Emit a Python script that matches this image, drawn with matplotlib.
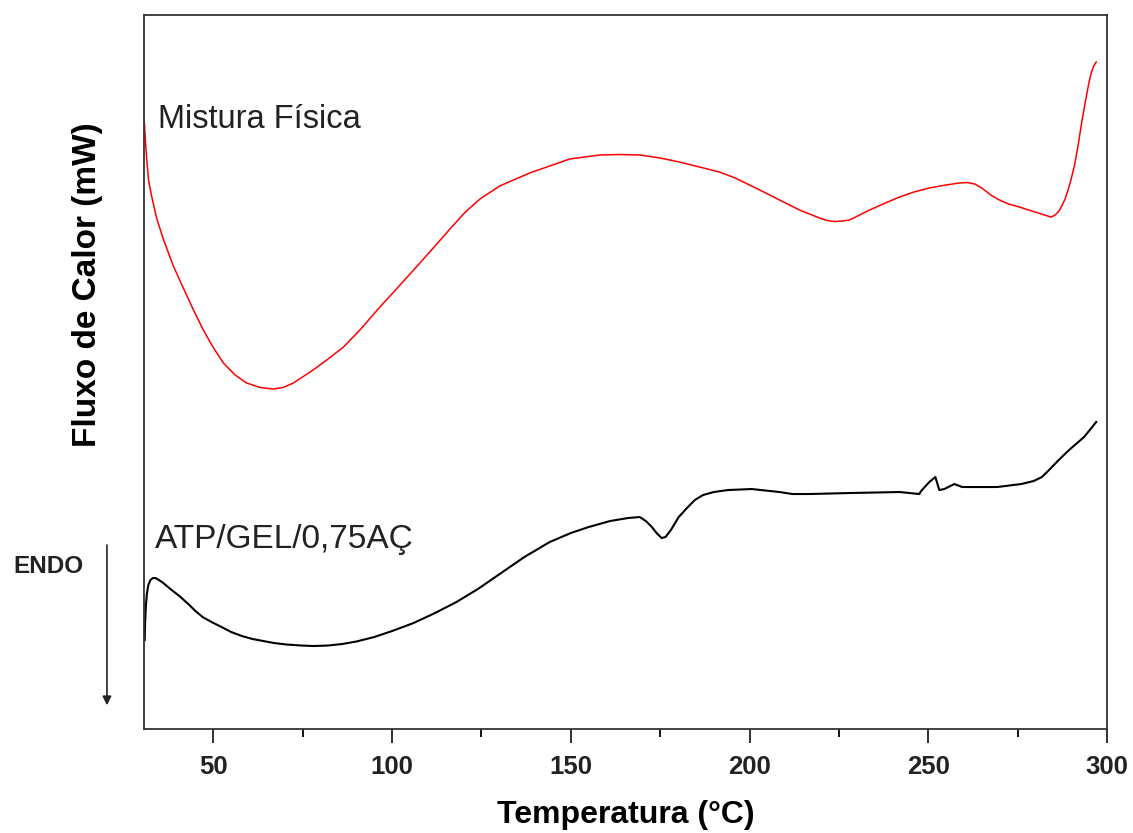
import matplotlib
matplotlib.use("Agg")
import matplotlib.pyplot as plt
from matplotlib.ticker import MultipleLocator

plt.rcParams['font.family'] = ['Liberation Sans', 'DejaVu Sans']

# Mistura Fisica (red curve), temperature in C, heat flow in arbitrary mW units
red_temp = [30.7, 31.0, 31.4, 31.9, 32.9, 34.2, 36.0, 38.8, 41.6, 44.3, 47.2,
            49.9, 52.8, 56.1, 59.3, 63.1, 66.8, 69.5, 72.4, 77.9, 82.1,
            86.4, 91.0, 96.6, 100.2, 107.8, 116.2, 120.5, 124.6, 130.1, 138.5,
            149.7, 158.1, 163.7, 169.3, 175.0, 180.4, 186.0, 191.6, 196.0, 200.0,
            204.0, 208.4, 214.0, 219.6, 221.7, 223.8, 226.0, 228.0, 233.6, 238.0,
            242.0, 246.0, 250.3, 255.0, 258.7, 261.0, 263.0, 265.0, 267.5, 269.9,
            272.5, 275.5, 279.0, 282.5, 284.4, 285.5, 286.6, 287.5, 288.3, 289.2,
            290.0, 291.0, 292.0, 293.0, 294.2, 295.0, 295.6, 296.3, 297.0]
red_flow = [6.07, 5.88, 5.68, 5.48, 5.30, 5.10, 4.90, 4.63, 4.41, 4.20, 3.99,
            3.82, 3.66, 3.54, 3.46, 3.415, 3.40, 3.415, 3.46, 3.59, 3.70,
            3.82, 3.99, 4.22, 4.36, 4.66, 5.00, 5.17, 5.30, 5.43, 5.56,
            5.70, 5.74, 5.745, 5.74, 5.71, 5.67, 5.62, 5.57, 5.51, 5.44,
            5.37, 5.29, 5.19, 5.11, 5.085, 5.075, 5.08, 5.09, 5.19, 5.26,
            5.32, 5.37, 5.41, 5.44, 5.46, 5.465, 5.45, 5.41, 5.34, 5.29,
            5.25, 5.22, 5.18, 5.14, 5.12, 5.14, 5.18, 5.24, 5.30, 5.40,
            5.50, 5.65, 5.85, 6.08, 6.32, 6.47, 6.56, 6.63, 6.67]

# ATP/GEL/0,75AC (black curve)
blk_temp = [30.8, 30.9, 31.1, 31.4, 31.8, 32.4, 33.1, 33.8, 34.8, 36.0, 38.0,
            40.5, 43.0, 45.0, 47.0, 49.5, 52.3, 55.0, 58.0, 61.0, 64.0,
            67.0, 70.5, 74.7, 78.0, 82.0, 86.0, 90.0, 95.0, 100.0, 106.0,
            112.0, 118.0, 124.0, 130.1, 137.0, 144.1, 150.0, 155.0, 161.0, 166.0,
            169.3, 171.0, 172.7, 174.0, 175.4, 176.5, 178.0, 180.2, 182.5, 184.7,
            187.0, 190.0, 194.0, 200.6, 208.4, 212.0, 216.8, 228.0, 242.0, 247.5,
            248.0, 250.3, 252.0, 253.1, 254.5, 257.3, 259.5, 269.3, 276.0, 279.5,
            281.8, 283.8, 286.5, 289.4, 293.6, 297.0]
blk_flow = [0.89, 1.05, 1.22, 1.35, 1.44, 1.49, 1.51, 1.51, 1.49, 1.46, 1.40,
            1.33, 1.25, 1.18, 1.12, 1.07, 1.02, 0.97, 0.93, 0.90, 0.88,
            0.86, 0.845, 0.835, 0.83, 0.835, 0.85, 0.875, 0.92, 0.98, 1.06,
            1.16, 1.27, 1.40, 1.55, 1.72, 1.87, 1.96, 2.02, 2.08, 2.11,
            2.12, 2.08, 2.02, 1.96, 1.91, 1.92, 1.99, 2.12, 2.21, 2.29,
            2.34, 2.37, 2.39, 2.40, 2.37, 2.35, 2.35, 2.36, 2.37, 2.35,
            2.38, 2.47, 2.52, 2.39, 2.40, 2.45, 2.42, 2.42, 2.45, 2.48,
            2.52, 2.59, 2.69, 2.79, 2.92, 3.07]

fig = plt.figure(figsize=(11.33, 8.33), dpi=100)
ax = fig.add_axes([0.1271, 0.1248, 0.8499, 0.8572])

ax.plot(red_temp, red_flow, color='#ff0000', lw=1.1)
ax.plot(blk_temp, blk_flow, color='black', lw=1.5)

ax.set_xlim(30.6, 300)
ax.set_ylim(0, 7.14)
ax.xaxis.set_major_locator(MultipleLocator(50))
ax.xaxis.set_minor_locator(MultipleLocator(25))
ax.set_yticks([])
ax.tick_params(axis='x', which='major', length=10, width=1.3, direction='out',
               labelsize=18.5, pad=9, colors='#222222')
ax.tick_params(axis='x', which='minor', length=5.5, width=1.3, direction='out')
for lbl in ax.get_xticklabels():
    lbl.set_fontweight('bold')
for s in ax.spines.values():
    s.set_linewidth(1.3)
    s.set_color('#333333')

ax.set_xlabel('Temperatura (°C)', fontsize=23, fontweight='bold', labelpad=15)
ax.set_ylabel('Fluxo de Calor (mW)', fontsize=24, fontweight='bold')
ax.yaxis.set_label_coords(-0.0426, 0.622)

ax.text(34.6, 6.01, 'Mistura Física', fontsize=23.5, color='#222222', va='baseline')
ax.text(33.7, 1.81, 'ATP/GEL/0,75AÇ', fontsize=24, color='#222222', va='baseline')

fig.text(0.0115, 0.312, 'ENDO', fontsize=17.5, fontweight='bold', color='#222222')
ax.annotate('', xy=(0.0944, 0.150), xytext=(0.0944, 0.349),
            xycoords='figure fraction', textcoords='figure fraction',
            arrowprops=dict(arrowstyle='-|>', color='#222222', lw=1.2,
                            mutation_scale=13), annotation_clip=False)

fig.savefig('out.png', dpi=100)
